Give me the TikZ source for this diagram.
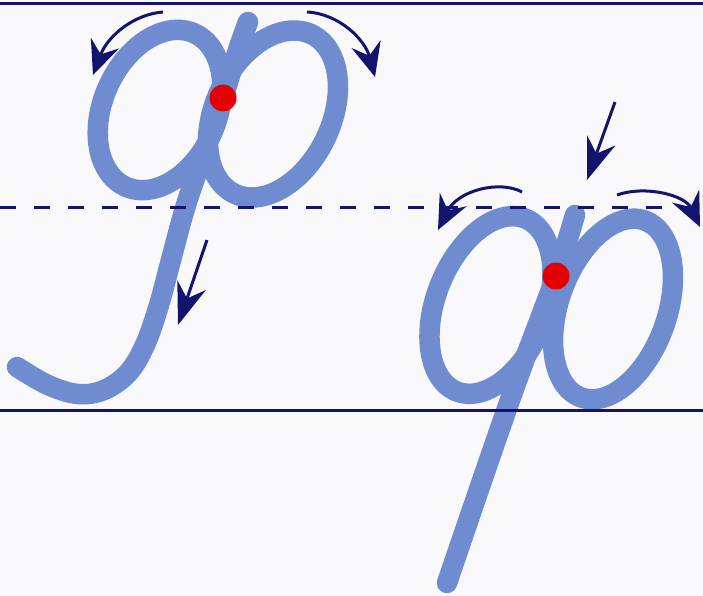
\documentclass[tikz,border=0pt]{standalone}
\usetikzlibrary{arrows.meta}
\definecolor{navy}{RGB}{20,20,110}
\definecolor{letterblue}{RGB}{112,140,208}
\definecolor{dotred}{RGB}{228,0,0}
\definecolor{paper}{RGB}{249,249,251}
% slanted loop: centre x, centre y, half major axis, half minor axis, slant (deg)
\newcommand\slantloop[5]{%
  \draw[penstroke] plot[domain=0:360, samples=120, variable=\t]
    ({#1 + #4*cos(\t)*cos(#5) + #3*sin(\t)*sin(#5)},
     {#2 + #4*cos(\t)*sin(#5) - #3*sin(\t)*cos(#5)}) -- cycle;}
\begin{document}
\begin{tikzpicture}[x=1pt,y=-1pt,
  ruling/.style={navy, line width=3pt},
  penstroke/.style={letterblue, line width=20.5pt, line cap=round, line join=round},
  guidearc/.style={navy, line width=3pt, -{Stealth[length=34pt,width=30pt,inset=12pt]}},
  guideline/.style={navy, line width=3pt, -{Stealth[length=42pt,width=30pt,inset=14pt]}},
  startdot/.style={fill=dotred, draw=none}]
\fill[paper] (0,0) rectangle (703,596);
\useasboundingbox (0,0) rectangle (703,596);
% ---- capital letter
\slantloop{160}{110}{84}{57}{24}
\slantloop{273}{114}{88.5}{58}{26}
\draw[penstroke] plot[smooth, tension=0.6] coordinates {
  (248,22) (238,50) (223,98) (205,150) (186,205) (171,260) (159,305)
  (145,345) (128,373) (104,390) (78,394) (48,385) (17,367)};
% ---- small letter
\slantloop{491}{305}{93}{55}{21.6}
\slantloop{613}{309}{94}{54}{19.8}
\draw[penstroke] plot[smooth, tension=0.6] coordinates {
  (575,215) (566,245) (556,276) (510,400) (447,583)};
% ---- ruling
\draw[ruling] (0,4) -- (703,4);
\draw[ruling, dash pattern=on 16pt off 18pt] (0,207) -- (703,207);
\draw[ruling] (0,410) -- (703,410);
% ---- start dots
\fill[startdot] (223,98) circle (13.5);
\fill[startdot] (556,276) circle (13.5);
% ---- direction arrows
\draw[guidearc] (163,12) .. controls (135,14) and (108,35) .. (93,75);
\draw[guidearc] (307,12) .. controls (340,14) and (365,40) .. (375,77);
\draw[guideline] (207,240) -- (178,325);
\draw[guideline] (615,102) -- (587,180);
\draw[guidearc] (522,192) .. controls (500,180) and (458,190) .. (438,230);
\draw[guidearc] (617,195) .. controls (645,185) and (685,195) .. (700,227);
\end{tikzpicture}
\end{document}
